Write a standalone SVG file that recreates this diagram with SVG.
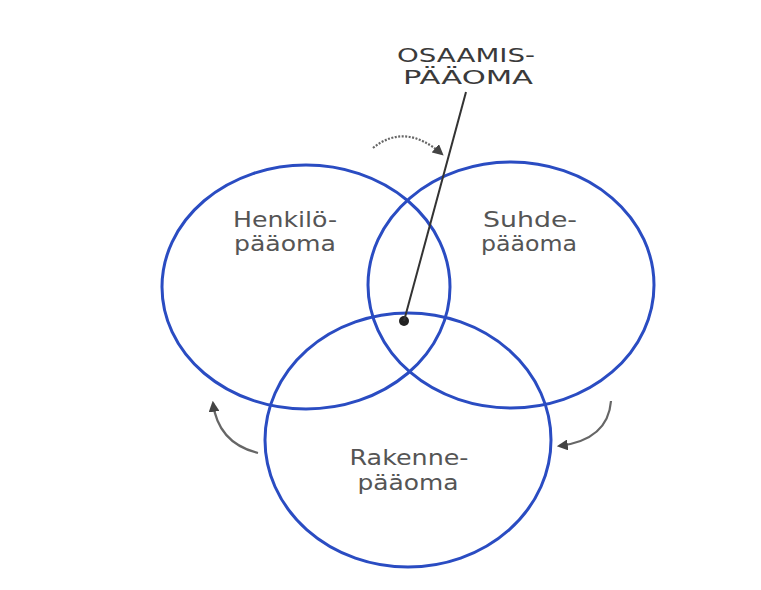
<svg xmlns="http://www.w3.org/2000/svg" width="761" height="590" viewBox="0 0 761 590">
<style>
.c{fill:none;stroke:#2a4cc2;stroke-width:3}
.t{font-family:"DejaVu Sans","Liberation Sans",sans-serif;font-size:21px;fill:#555;text-anchor:middle}
.h{font-family:"DejaVu Sans","Liberation Sans",sans-serif;font-size:20px;fill:#3a3a3a;text-anchor:middle}
.a{fill:none;stroke:#666;stroke-width:2.2}
</style>
<defs>
<marker id="ah" viewBox="0 0 10 10" refX="8" refY="5" markerWidth="5" markerHeight="5" orient="auto"><path d="M0,0 L10,5 L0,10 Z" fill="#444"/></marker>
</defs>
<rect width="761" height="590" fill="#fff"/>
<g id="henkilo"><ellipse class="c" cx="306" cy="287" rx="144" ry="122"/><text class="t" x="285" y="227" textLength="104" lengthAdjust="spacingAndGlyphs">Henkilö-</text><text class="t" x="285" y="251" textLength="102" lengthAdjust="spacingAndGlyphs">pääoma</text></g>
<g id="suhde"><ellipse class="c" cx="511" cy="285" rx="143" ry="123"/><text class="t" x="530" y="227" textLength="94" lengthAdjust="spacingAndGlyphs">Suhde-</text><text class="t" x="529" y="251" textLength="96" lengthAdjust="spacingAndGlyphs">pääoma</text></g>
<g id="rakenne"><ellipse class="c" cx="408" cy="440" rx="143" ry="127"/><text class="t" x="409" y="465" textLength="119" lengthAdjust="spacingAndGlyphs">Rakenne-</text><text class="t" x="408" y="490" textLength="101" lengthAdjust="spacingAndGlyphs">pääoma</text></g>
<g id="osaamis"><text class="h" x="466" y="62" textLength="138" lengthAdjust="spacingAndGlyphs">OSAAMIS-</text><text class="h" x="468" y="84" textLength="130" lengthAdjust="spacingAndGlyphs">PÄÄOMA</text><circle cx="404" cy="321" r="5" fill="#222"/></g>
<g id="connectors">
<line x1="404" y1="321" x2="466" y2="92" stroke="#333" stroke-width="2"/>
<path class="a" d="M373,148 Q405,122 442,154" stroke-dasharray="2,1.5" marker-end="url(#ah)"/>
<path class="a" d="M258,453 Q218,443 213,403" marker-end="url(#ah)"/>
<path class="a" d="M611,401 Q608,440 559,446" marker-end="url(#ah)"/>
</g>
</svg>
